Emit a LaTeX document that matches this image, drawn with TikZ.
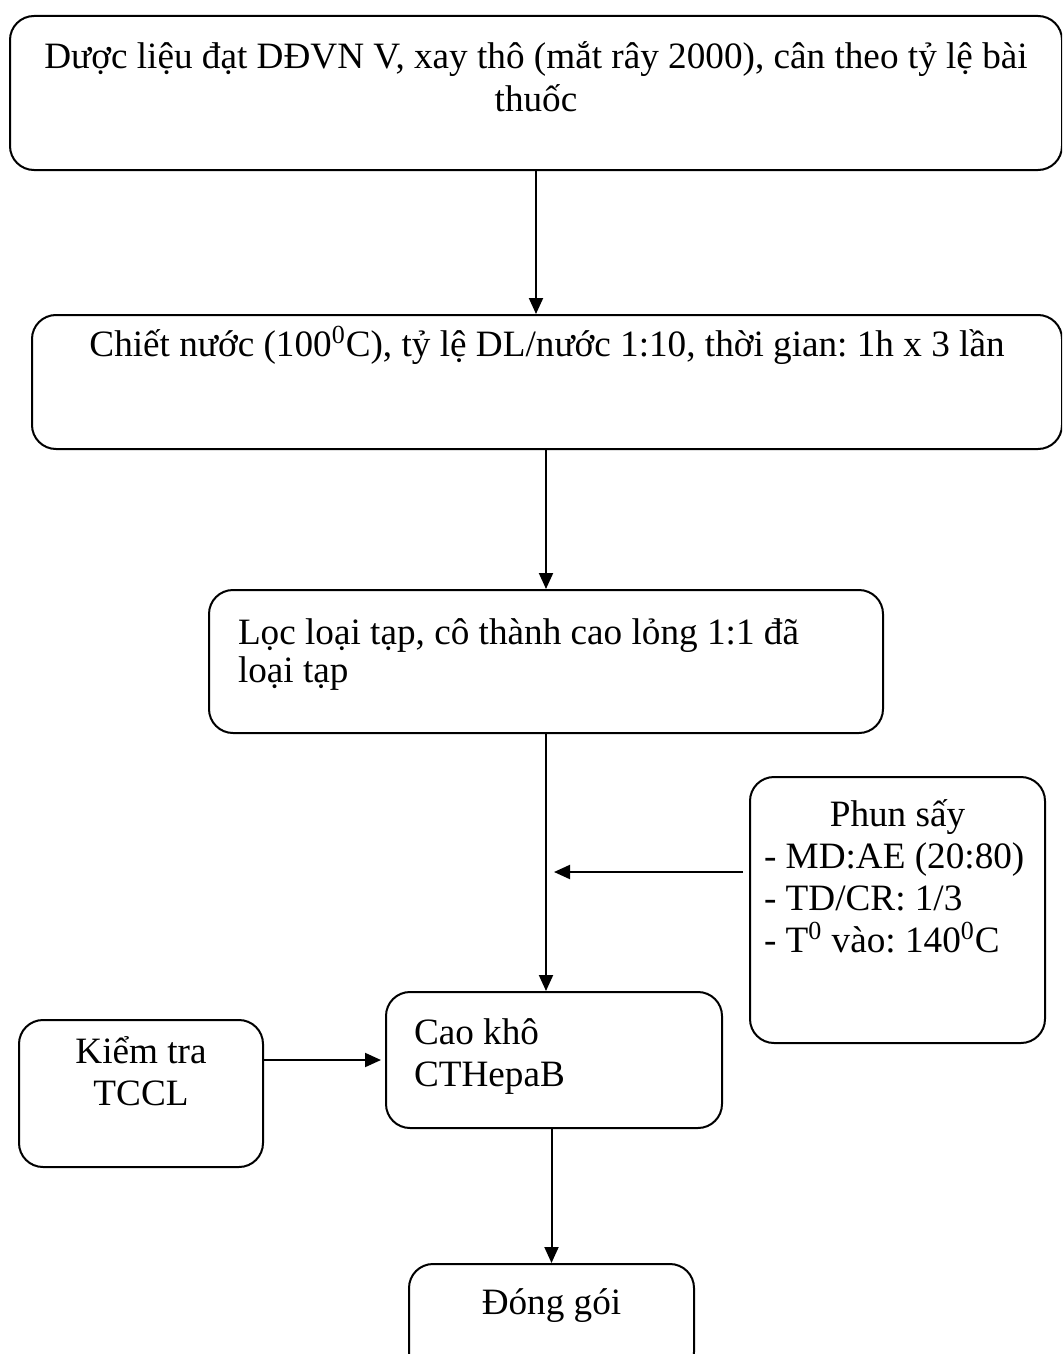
\documentclass[tikz,border=0pt]{standalone}
\usepackage{fontspec}
\setmainfont{Liberation Serif}
\usetikzlibrary{arrows.meta}

\begin{document}
\begin{tikzpicture}[
    x=0.5pt, y=-0.5pt,
    stepbox/.style={
        rectangle, rounded corners=12pt, draw=black, line width=1pt,
        anchor=north west, inner ysep=0pt, align=flush center,
        font=\fontsize{18.6}{21}\selectfont\frenchspacing
    },
    arr/.style={-{Triangle[length=8pt, width=7pt]}, line width=1pt, black}
]

% page frame (boxes run off the right and bottom edges)
\path[use as bounding box, clip] (0,0) rectangle (1062,1354);

% ===================================================================
% MAIN LINE
% ===================================================================
\node[stepbox, inner xsep=5pt, text width=516pt,
      text height=26.5pt, text depth=50.5pt] (src) at (9,15)
    {Dược liệu đạt DĐVN V, xay thô (mắt rây 2000), cân theo tỷ lệ bài\\
     thuốc};

\node[stepbox, inner xsep=5pt, text width=505pt,
      text height=20.5pt, text depth=46.5pt] (extract) at (31,314)
    {Chiết nước (100\textsuperscript{0}C), tỷ lệ DL/nước 1:10, thời gian: 1h x 3 lần};

\node[stepbox, align=flush left, inner xsep=14.5pt, text width=308pt,
      text height=27pt, text depth=44.5pt] (filter) at (208,589)
    {Lọc loại tạp, cô thành cao lỏng 1:1 đã\\[-2pt]
     loại tạp};

\node[stepbox, align=flush left, inner xsep=14pt, text width=140pt,
      text height=26pt, text depth=42pt] (dry) at (385,991)
    {Cao khô\\
     CTHepaB};

\node[stepbox, inner xsep=5pt, text width=132.5pt,
      text height=25pt, text depth=31pt] (pack) at (408,1263)
    {Đóng gói};

% ===================================================================
% SIDE BOXES
% ===================================================================
\node[stepbox, align=flush left, inner xsep=7pt, text width=133.5pt,
      text height=24.5pt, text depth=108.5pt] (spray) at (749,776)
    {\makebox[\linewidth][c]{Phun sấy}\\
     - MD:AE (20:80)\\
     - TD/CR: 1/3\\
     - T\textsuperscript{0} vào: 140\textsuperscript{0}C};

\node[stepbox, inner xsep=5pt, text width=112pt,
      text height=21.5pt, text depth=52pt] (check) at (18,1019)
    {Kiểm tra\\
     TCCL};

% ===================================================================
% ARROWS
% ===================================================================
\draw[arr] (src.south) -- (src.south |- extract.north);
\draw[arr] (extract.south -| filter.north) -- (filter.north);
\draw[arr] (filter.south) -- (filter.south |- dry.north);
\draw[arr] (dry.south -| pack.north) -- (pack.north);

\path (filter.south) ++(0,138) coordinate (merge);
\draw[arr, shorten <=3pt] (spray.west |- merge) -- ([xshift=4pt]merge);
\draw[arr, shorten >=2pt] (check.east |- dry.west) -- (dry.west);

\end{tikzpicture}
\end{document}
